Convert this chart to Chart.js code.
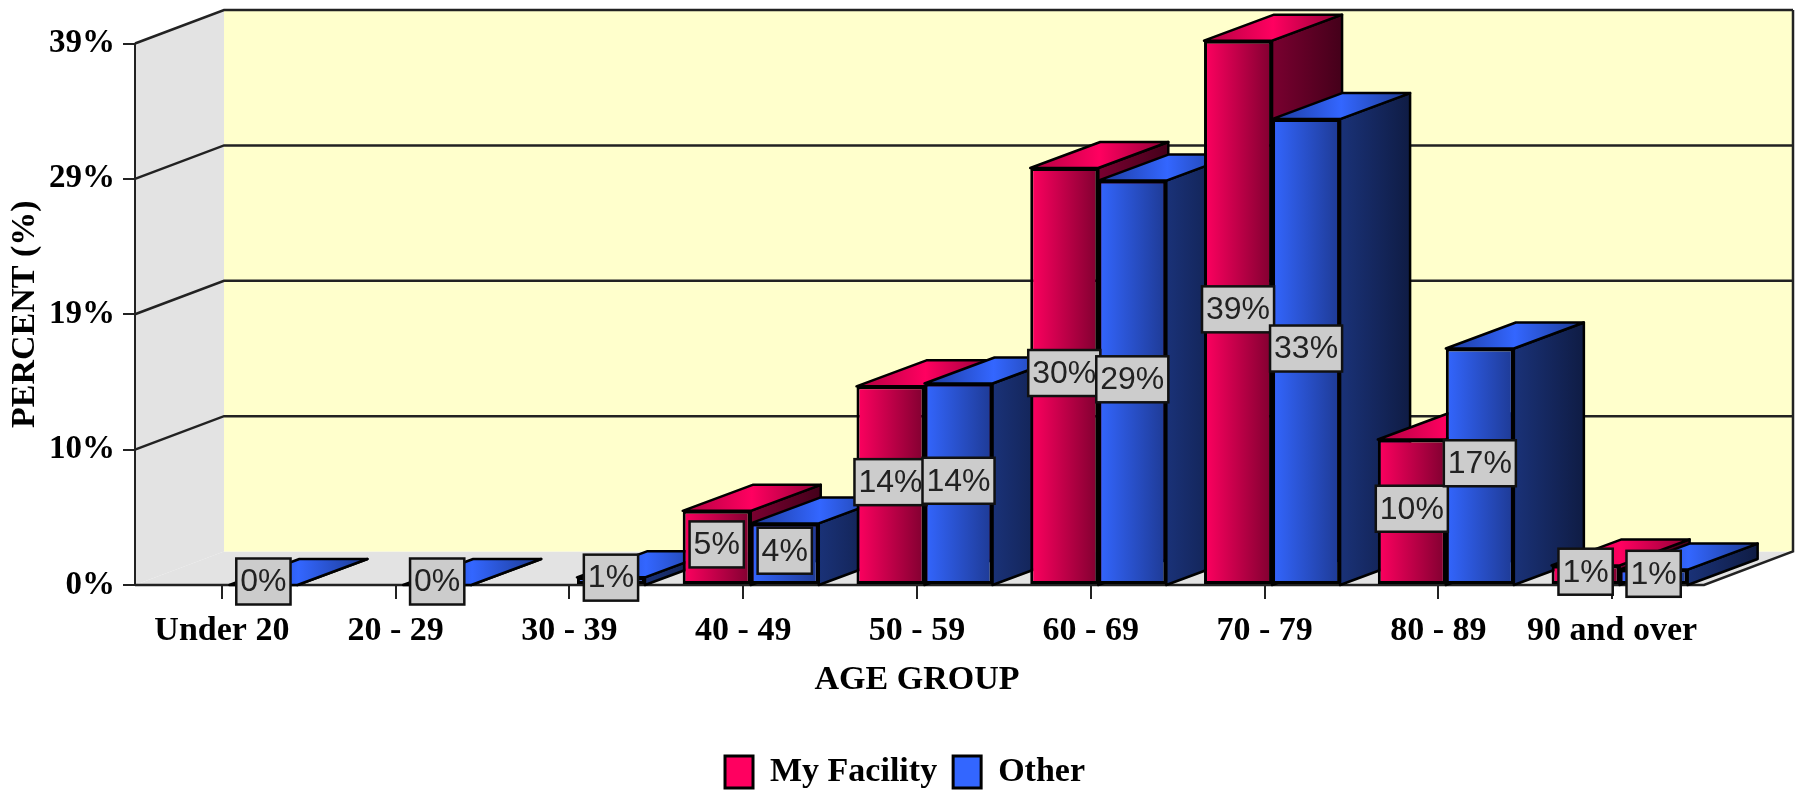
<!DOCTYPE html>
<html>
<head>
<meta charset="utf-8">
<title>Age group</title>
<script src="https://cdn.jsdelivr.net/npm/chart.js@4"></script>
<style>
  html, body { margin: 0; padding: 0; background: #fff; }
  canvas { display: block; }
</style>
</head>
<body>
<canvas id="barChart" width="1800" height="791"></canvas>
<script>
const categories = ["Under 20", "20 - 29", "30 - 39", "40 - 49", "50 - 59", "60 - 69", "70 - 79", "80 - 89", "90 and over"];
const myFacility = [null, null, null, 5.3, 14.2, 29.8, 38.9, 10.4, 1.4];
const other = [0, 0, 0.55, 4.4, 14.4, 28.9, 33.3, 16.9, 1.1];
const yTicks = [0, 9.675, 19.35, 29.025, 38.7];

const serif = "'Liberation Serif', serif";
const wallDepth = { x: 89, y: 33.5 };
const barDepth = { x: 70, y: 26 };
const barShift = 7.5; // the boxes sit a bit right of the ticks

const red = { solid: "#ff0060", front: ["#ff0060", "#800030"], top: ["#b00040", "#ff0060", "#900035"], side: ["#7a0030", "#44001a"] };
const blue = { solid: "#3366ff", front: ["#3366ff", "#1e3a94"], top: ["#1c3a9c", "#3366ff", "#1c3a90"], side: ["#1a3278", "#0f1c44"] };
const palettes = [red, blue];

const hGradient = (ctx, x0, x1, colors) => {
    const g = ctx.createLinearGradient(x0, 0, x1, 0);
    colors.forEach((c, i) => g.addColorStop(i / (colors.length - 1), c));
    return g;
};

const barEdges = (chart, index, datasetIndex) => {
    const scale = chart.scales.x;
    const w = scale.width / categories.length * 0.783 / 2;
    const left = scale.getPixelForValue(index) + (datasetIndex - 1) * w;
    return { left, right: left + w };
};

const frontFill = (palette) => (c) => {
    if (c.type !== "data") return palette.solid;
    const { left, right } = barEdges(c.chart, c.dataIndex, c.datasetIndex);
    // options also get resolved once before the scales have a size
    if (!Number.isFinite(left) || !Number.isFinite(right)) return palette.solid;
    return hGradient(c.chart.ctx, left, right, palette.front);
};

const polygon = (ctx, pts, fill, stroke, width) => {
    ctx.beginPath();
    pts.forEach((p, i) => (i ? ctx.lineTo(p[0], p[1]) : ctx.moveTo(p[0], p[1])));
    ctx.closePath();
    if (fill) {
        ctx.fillStyle = fill;
        ctx.fill();
    }
    if (stroke) {
        ctx.strokeStyle = stroke;
        ctx.lineWidth = width;
        ctx.lineJoin = "round";
        ctx.stroke();
    }
};

const boxPlugin = {
    id: "box3d",
    beforeLayout(chart) {
        // legend sits tight on the bottom edge, so cut its box down after it fits
        const legend = chart.legend;
        if (legend.fitWrapped) return;
        const fit = legend.fit;
        legend.fit = function () {
            fit.call(this);
            this.height = 52;
        };
        legend.fitWrapped = true;
    },
    afterLayout(chart) {
        chart.legend.left = 10;
        chart.legend.right = 1800;
    },
    // walls, floor and the grid that runs over them
    beforeDraw(chart) {
        const { ctx, chartArea, scales } = chart;
        const L = chartArea.left;
        const B = chartArea.bottom;
        const T = chartArea.top;
        const floorRight = 1704;
        const backL = L + wallDepth.x;
        const backR = floorRight + wallDepth.x;
        const backB = B - wallDepth.y;
        const backT = T - wallDepth.y;
        ctx.save();
        polygon(ctx, [[L, T], [backL, backT], [backL, backB], [L, B]], "#e3e3e3");
        polygon(ctx, [[L, B], [floorRight, B], [backR, backB], [backL, backB]], "#e3e3e3");
        polygon(ctx, [[backL, backT], [backR, backT], [backR, backB], [backL, backB]], "#ffffcc");
        ctx.strokeStyle = "#222";
        ctx.lineWidth = 2.5;
        yTicks.slice(1).forEach((v) => {
            const y = scales.y.getPixelForValue(v);
            ctx.beginPath();
            ctx.moveTo(L, y);
            ctx.lineTo(backL, y - wallDepth.y);
            ctx.lineTo(backR, y - wallDepth.y);
            ctx.stroke();
        });
        ctx.beginPath();
        ctx.moveTo(backR, backT);
        ctx.lineTo(backR, backB);
        ctx.lineTo(floorRight, B);
        ctx.lineTo(L, B);
        ctx.stroke();
        ctx.restore();
    },
    // tops and sides go first, left to right; Chart.js then paints the fronts
    beforeDatasetsDraw(chart) {
        const { ctx, scales } = chart;
        ctx.save();
        ctx.translate(barShift, 0);
        categories.forEach((_, i) => {
            chart.data.datasets.forEach((ds, d) => {
                const v = ds.data[i];
                if (v === null) return;
                const { left, right } = barEdges(chart, i, d);
                const yTop = scales.y.getPixelForValue(v);
                const yBase = scales.y.getPixelForValue(0);
                const dx = barDepth.x;
                const dy = barDepth.y;
                polygon(ctx, [[right, yTop], [right + dx, yTop - dy], [right + dx, yBase - dy], [right, yBase]],
                    hGradient(ctx, right, right + dx, palettes[d].side), "#000", 2.5);
                polygon(ctx, [[left, yTop], [left + dx, yTop - dy], [right + dx, yTop - dy], [right, yTop]],
                    hGradient(ctx, left, right + dx, palettes[d].top), "#000", 2.5);
            });
        });
    },
    afterDatasetsDraw(chart) {
        const { ctx, scales } = chart;
        ctx.restore();
        ctx.save();
        ctx.font = "32px 'Liberation Sans', sans-serif";
        ctx.textAlign = "center";
        ctx.textBaseline = "middle";
        categories.forEach((_, i) => {
            chart.data.datasets.forEach((ds, d) => {
                const v = ds.data[i];
                if (v === null) return;
                const { left, right } = barEdges(chart, i, d);
                const cx = (left + right) / 2 + barShift;
                const cy = (scales.y.getPixelForValue(v) + scales.y.getPixelForValue(0)) / 2 - 3.5;
                const text = Math.round(v) + "%";
                const w = ctx.measureText(text).width + 8;
                ctx.fillStyle = "#cccccc";
                ctx.fillRect(cx - w / 2, cy - 23, w, 46);
                ctx.strokeStyle = "#111";
                ctx.lineWidth = 2.5;
                ctx.strokeRect(cx - w / 2, cy - 23, w, 46);
                ctx.fillStyle = "#222";
                ctx.fillText(text, cx, cy + 1);
            });
        });
        ctx.restore();
    },
};

const createBarChart = () => {
    const canvas = document.getElementById("barChart");

    new Chart(canvas, {
        type: "bar",
        plugins: [boxPlugin],
        data: {
            labels: categories,
            datasets: [
                {
                    label: "My Facility",
                    data: myFacility,
                    backgroundColor: frontFill(red),
                    borderColor: "#000",
                    borderWidth: 3,
                    borderSkipped: false,
                    categoryPercentage: 0.783,
                    barPercentage: 1,
                    clip: false,
                },
                {
                    label: "Other",
                    data: other,
                    backgroundColor: frontFill(blue),
                    borderColor: "#000",
                    borderWidth: 3,
                    borderSkipped: false,
                    categoryPercentage: 0.783,
                    barPercentage: 1,
                    clip: false,
                },
            ],
        },
        options: {
            responsive: false,
            animation: false,
            layout: { padding: { top: 43.5, left: 0, right: 101, bottom: 0 } },
            plugins: {
                tooltip: { enabled: false },
                legend: {
                    position: "bottom",
                    labels: {
                        boxWidth: 28,
                        boxHeight: 32,
                        padding: 16,
                        color: "#000",
                        font: { family: serif, size: 34, weight: "bold", lineHeight: 1 },
                        generateLabels: (chart) =>
                            Chart.defaults.plugins.legend.labels.generateLabels(chart).map((item, i) => ({
                                ...item,
                                fillStyle: palettes[i].solid,
                            })),
                    },
                },
            },
            scales: {
                x: {
                    afterFit: (scale) => {
                        scale.height = 154;
                    },
                    grid: { offset: false, drawOnChartArea: false, drawTicks: true, tickLength: 14, color: "#222", lineWidth: 2 },
                    border: { color: "#222", width: 2 },
                    ticks: { color: "#000", padding: 12, maxRotation: 0, font: { family: serif, size: 34, weight: "bold" } },
                    title: {
                        display: true,
                        text: "AGE GROUP",
                        color: "#000",
                        padding: { top: 0, bottom: 38 },
                        font: { family: serif, size: 34, weight: "bold" },
                    },
                },
                y: {
                    min: 0,
                    max: 38.7,
                    afterFit: (scale) => {
                        scale.width = 135;
                    },
                    afterBuildTicks: (scale) => {
                        scale.ticks = yTicks.map((value) => ({ value }));
                    },
                    grid: { drawOnChartArea: false, drawTicks: true, tickLength: 12, color: "#222", lineWidth: 2 },
                    border: { color: "#222", width: 2 },
                    ticks: {
                        color: "#000",
                        padding: 8,
                        font: { family: serif, size: 33, weight: "bold" },
                        callback: (v) => Math.round(v) + "%",
                    },
                    title: {
                        display: true,
                        text: "PERCENT (%)",
                        color: "#000",
                        padding: { top: 5, bottom: 0 },
                        font: { family: serif, size: 34, weight: "bold" },
                    },
                },
            },
        },
    });
};

createBarChart();
</script>
</body>
</html>
